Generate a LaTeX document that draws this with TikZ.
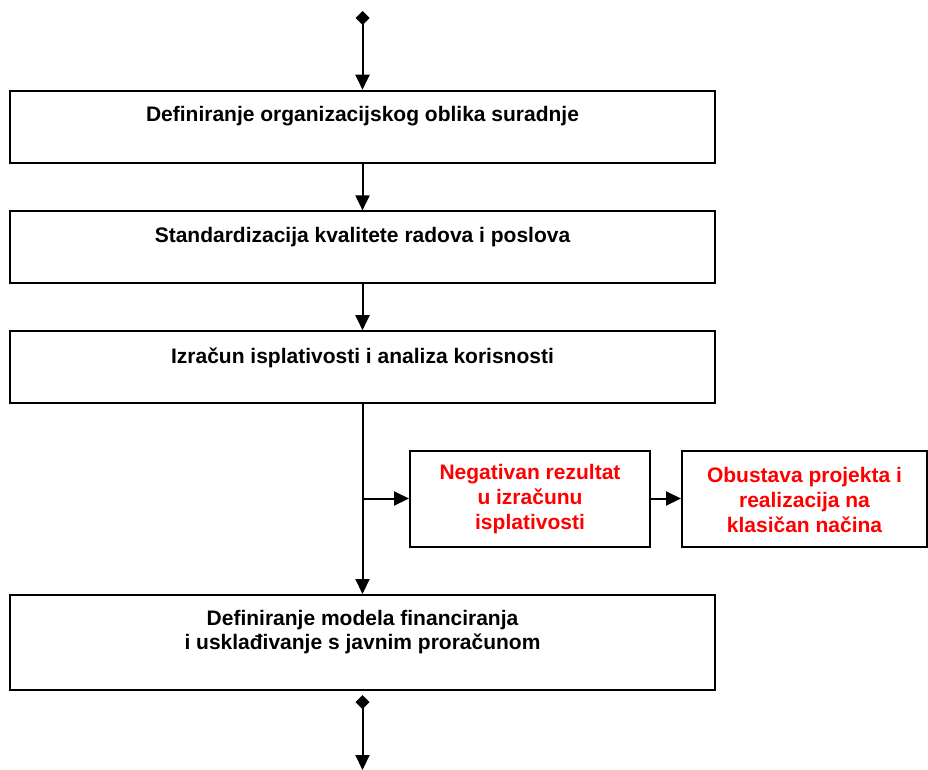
\documentclass[tikz,border=0pt]{standalone}
\usepackage{fontspec}
\setmainfont{Liberation Sans}
\usetikzlibrary{arrows.meta}
\begin{document}
\begin{tikzpicture}[x=1pt,y=-1pt,
  box/.style={draw, line width=2pt, rectangle, inner sep=0pt},
  lbl/.style={font=\fontsize{21}{24}\selectfont\bfseries, align=center, inner sep=0pt},
  redlbl/.style={lbl, text=red, font=\fontsize{21}{25}\selectfont\bfseries},
  arr/.style={line width=2pt, -{Triangle[width=14pt,length=15pt]}},
  darr/.style={line width=2pt, {Diamond[width=14pt,length=14pt]}-{Triangle[width=14pt,length=15pt]}}]
\useasboundingbox (0,0) rectangle (928,769);

% main column
\node[box, minimum width=705pt, minimum height=72pt] (b1) at (362.5,126.7) {};
\node[lbl, anchor=base] (t1) at (362.5,121) {Definiranje organizacijskog oblika suradnje};

\node[box, minimum width=705pt, minimum height=72pt] (b2) at (362.5,247.4) {};
\node[lbl, anchor=base] (t2) at (362.5,242.5) {Standardizacija kvalitete radova i poslova};

\node[box, minimum width=705pt, minimum height=72pt] (b3) at (362.5,367.2) {};
\node[lbl, anchor=base] (t3) at (362.5,363) {Izračun isplativosti i analiza korisnosti};

\node[box, minimum width=705pt, minimum height=95pt] (b4) at (362.5,642.5) {};
\node[lbl] (t4) at (362.5,632.5) {Definiranje modela financiranja\\i usklađivanje s javnim proračunom};

% side branch
\node[box, minimum width=240pt, minimum height=96pt] (b5) at (530,498.5) {};
\node[redlbl] (t5) at (530,499.5) {Negativan rezultat\\u izračunu\\isplativosti};

\node[box, minimum width=245pt, minimum height=96pt] (b6) at (804.5,498.5) {};
\node[redlbl] (t6) at (804.5,499.5) {Obustava projekta i\\realizacija na\\klasičan načina};

% connectors
\coordinate (in) at (362.5,11);
\coordinate (out) at (362.5,695);
\coordinate (end) at (362.5,770);
\draw[darr] (in) -- (b1.north);
\draw[arr] (b1.south) -- (b2.north);
\draw[arr] (b2.south) -- (b3.north);
\draw[arr] (b3.south) -- (b4.north);
\draw[arr] (b5.west -| b3.south) -- (b5.west);
\draw[arr] (b5.east) -- (b6.west);
\draw[darr] (out) -- (end);
\end{tikzpicture}
\end{document}
